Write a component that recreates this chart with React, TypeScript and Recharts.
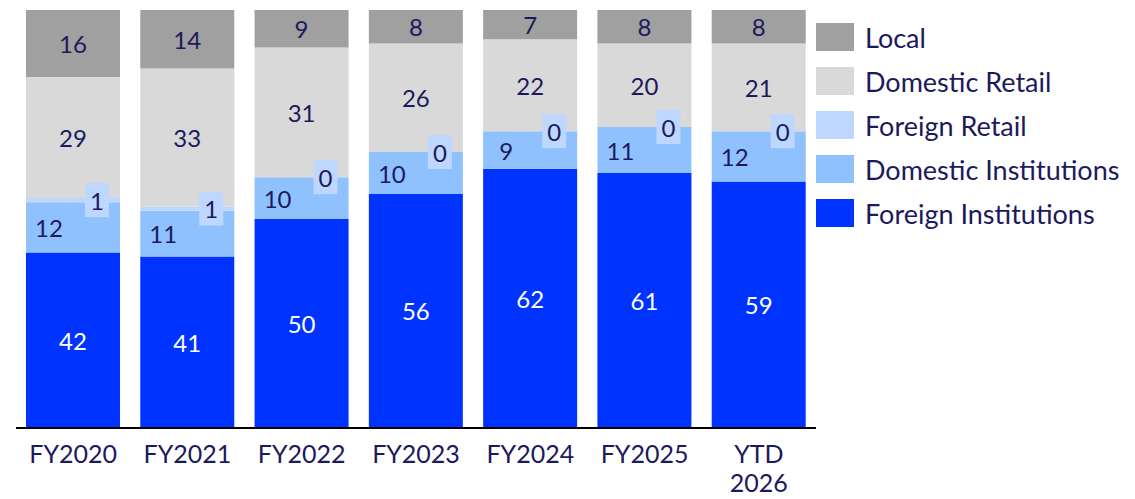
import { BarChart, Bar, XAxis, YAxis, LabelList } from "recharts";

const categories = ["FY2020", "FY2021", "FY2022", "FY2023", "FY2024", "FY2025", "YTD 2026"];
const foreignInstitutions = [42, 41, 50, 56, 62, 61, 59];
const domesticInstitutions = [12, 11, 10, 10, 9, 11, 12];
const foreignRetail = [1, 1, 0, 0, 0, 0, 0];
const domesticRetail = [29, 33, 31, 26, 22, 20, 21];
const local = [16, 14, 9, 8, 7, 8, 8];

const NAVY = "#1c1a5c";
const FONT = "Lato, 'Open Sans', sans-serif";

const series = [
  { key: "local", name: "Local", color: "#a0a0a0" },
  { key: "domesticRetail", name: "Domestic Retail", color: "#d9d9d9" },
  { key: "foreignRetail", name: "Foreign Retail", color: "#bdd7ff" },
  { key: "domesticInstitutions", name: "Domestic Institutions", color: "#8fc1ff" },
  { key: "foreignInstitutions", name: "Foreign Institutions", color: "#0033ff" },
];

const data = categories.map((name, i) => ({
  name,
  foreignInstitutions: foreignInstitutions[i],
  domesticInstitutions: domesticInstitutions[i],
  foreignRetail: foreignRetail[i],
  domesticRetail: domesticRetail[i],
  local: local[i],
}));

const centerLabel = (fill: string) => (props: any) => {
  const { x, y, width, height, value } = props;
  return (
    <text
      x={x + width / 2}
      y={y + height / 2}
      fill={fill}
      fontSize={24}
      fontFamily={FONT}
      textAnchor="middle"
      dominantBaseline="central"
    >
      {value}
    </text>
  );
};

// Domestic Institutions label (left) plus the boxed Foreign Retail label sitting on its top edge
const instLabel = (props: any) => {
  const { x, y, width, height, value, index } = props;
  const unit = height / value;
  const fr = foreignRetail[index];
  const bx = x + width / 2 + 24;
  const by = y - (fr * unit) / 2;
  return (
    <g>
      <text
        x={x + width / 2 - 24}
        y={y + height / 2}
        fill={NAVY}
        fontSize={24}
        fontFamily={FONT}
        textAnchor="middle"
        dominantBaseline="central"
      >
        {value}
      </text>
      <rect x={bx - 12} y={by - 17} width={24} height={34} fill="#bdd7ff" />
      <text
        x={bx}
        y={by}
        fill={NAVY}
        fontSize={24}
        fontFamily={FONT}
        textAnchor="middle"
        dominantBaseline="central"
      >
        {fr}
      </text>
    </g>
  );
};

const CategoryTick = ({ x, y, payload }: any) => {
  const parts = String(payload.value).split(" ");
  return (
    <text x={x} y={y} fill={NAVY} fontSize={25} fontFamily={FONT} textAnchor="middle">
      {parts.map((p, i) => (
        <tspan key={i} x={x} dy={i === 0 ? 27 : 29}>
          {p}
        </tspan>
      ))}
    </text>
  );
};

export default function App() {
  return (
    <div style={{ position: "absolute", left: 0, top: 0, width: 1135, height: 499 }}>
      <BarChart
        width={1135}
        height={499}
        data={data}
        margin={{ top: 10, right: 319, left: 16, bottom: 0 }}
      >
        <XAxis
          dataKey="name"
          height={71}
          tickLine={false}
          axisLine={{ stroke: "#000", strokeWidth: 2 }}
          tick={<CategoryTick />}
          interval={0}
        />
        <YAxis hide domain={[0, 100]} />
        <Bar dataKey="foreignInstitutions" name="Foreign Institutions" stackId="a" fill="#0033ff" barSize={94} isAnimationActive={false}>
          <LabelList dataKey="foreignInstitutions" content={centerLabel("#ffffff")} />
        </Bar>
        <Bar dataKey="domesticInstitutions" name="Domestic Institutions" stackId="a" fill="#8fc1ff" barSize={94} isAnimationActive={false}>
          <LabelList dataKey="domesticInstitutions" content={instLabel} />
        </Bar>
        <Bar dataKey="foreignRetail" name="Foreign Retail" stackId="a" fill="#bdd7ff" barSize={94} isAnimationActive={false} />
        <Bar dataKey="domesticRetail" name="Domestic Retail" stackId="a" fill="#d9d9d9" barSize={94} isAnimationActive={false}>
          <LabelList dataKey="domesticRetail" content={centerLabel(NAVY)} />
        </Bar>
        <Bar dataKey="local" name="Local" stackId="a" fill="#a0a0a0" barSize={94} isAnimationActive={false}>
          <LabelList dataKey="local" content={centerLabel(NAVY)} />
        </Bar>
      </BarChart>
      <div
        style={{
          position: "absolute",
          left: 816,
          top: 15,
          fontFamily: FONT,
          color: NAVY,
          fontSize: 27,
        }}
      >
        {series.map((s) => (
          <div key={s.key} style={{ display: "flex", alignItems: "center", height: 44 }}>
            <div style={{ width: 38, height: 28, background: s.color, marginRight: 11, flexShrink: 0 }} />
            <span style={{ whiteSpace: "nowrap" }}>{s.name}</span>
          </div>
        ))}
      </div>
    </div>
  );
}
